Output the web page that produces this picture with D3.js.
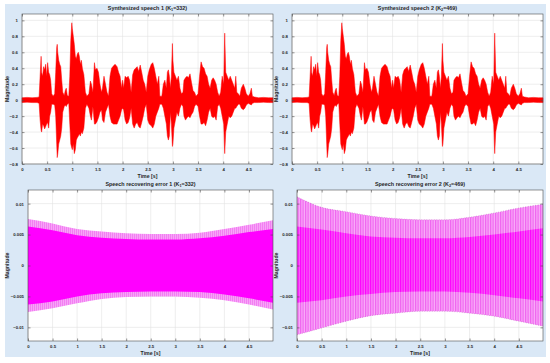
<!DOCTYPE html>
<html lang="en">
<head>
<meta charset="utf-8">
<title>Synthesized speech and recovering error</title>
<script src="https://d3js.org/d3.v7.min.js"></script>
<style>
  body { margin: 0; background: #fff; }
  svg text { font-family: 'Liberation Sans', Arial, sans-serif; font-weight: bold; fill: #262626; }
</style>
</head>
<body>
<div id="chart"></div>
<script>
// speech envelope (time [s], upper, lower)
var speechT  = [0,0.1,0.2,0.3,0.34,0.36,0.38,0.39,0.41,0.43,0.45,0.47,0.49,0.51,0.53,0.55,0.57,0.59,0.62,0.65,0.67,0.69,0.7,0.71,0.73,0.75,0.77,0.79,0.81,0.84,0.86,0.88,0.9,0.93,0.95,0.97,0.99,1,1.02,1.04,1.06,1.08,1.1,1.12,1.14,1.16,1.18,1.2,1.23,1.26,1.29,1.33,1.36,1.38,1.41,1.44,1.46,1.49,1.52,1.55,1.58,1.6,1.63,1.66,1.69,1.72,1.75,1.78,1.82,1.85,1.89,1.92,1.95,1.98,2,2.02,2.05,2.08,2.11,2.14,2.17,2.2,2.23,2.26,2.29,2.32,2.35,2.38,2.41,2.44,2.47,2.5,2.53,2.57,2.6,2.63,2.66,2.69,2.72,2.74,2.78,2.81,2.84,2.87,2.89,2.91,2.93,2.95,2.97,2.99,3,3.02,3.05,3.08,3.11,3.14,3.17,3.2,3.22,3.25,3.28,3.31,3.34,3.37,3.4,3.43,3.46,3.5,3.53,3.56,3.59,3.62,3.65,3.68,3.71,3.74,3.77,3.8,3.83,3.86,3.89,3.92,3.95,3.98,4.01,4.03,4.05,4.08,4.11,4.14,4.17,4.2,4.23,4.25,4.27,4.3,4.33,4.36,4.4,4.43,4.46,4.5,4.53,4.56,4.58,4.62,4.7,4.8,4.9,4.99];
var speechUp = [0.03,0.035,0.03,0.035,0.04,0.3,0.55,0.35,0.3,0.42,0.38,0.45,0.3,0.47,0.35,0.32,0.25,0.08,0.05,0.08,0.35,0.66,0.7,0.6,0.5,0.45,0.42,0.25,0.1,0.06,0.12,0.15,0.06,0.05,0.3,0.75,0.97,0.9,0.8,0.7,0.55,0.52,0.58,0.6,0.55,0.45,0.5,0.4,0.32,0.1,0.05,0.08,0.24,0.2,0.1,0.47,0.38,0.4,0.35,0.2,0.1,0.15,0.3,0.2,0.1,0.05,0.3,0.4,0.43,0.45,0.42,0.35,0.3,0.15,0.25,0.15,0.3,0.28,0.3,0.25,0.1,0.32,0.38,0.4,0.42,0.36,0.44,0.35,0.25,0.2,0.1,0.3,0.38,0.45,0.47,0.4,0.3,0.2,0.3,0.05,0.05,0.2,0.25,0.15,0.35,0.38,0.3,0.15,0.3,0.71,0.5,0.35,0.3,0.25,0.3,0.15,0.08,0.1,0.25,0.28,0.3,0.28,0.33,0.22,0.12,0.1,0.05,0.08,0.3,0.48,0.42,0.4,0.33,0.3,0.2,0.15,0.25,0.28,0.25,0.2,0.1,0.05,0.1,0.3,0.2,0.84,0.35,0.3,0.25,0.3,0.25,0.2,0.15,0.3,0.1,0.08,0.05,0.15,0.2,0.15,0.08,0.05,0.08,0.15,0.05,0.04,0.03,0.035,0.03,0.03];
var speechLo = [-0.03,-0.025,-0.03,-0.03,-0.04,-0.25,-0.38,-0.4,-0.3,-0.32,-0.36,-0.33,-0.3,-0.28,-0.35,-0.2,-0.15,-0.05,-0.05,-0.06,-0.2,-0.55,-0.72,-0.68,-0.55,-0.5,-0.45,-0.35,-0.15,-0.08,-0.06,-0.08,-0.05,-0.04,-0.3,-0.55,-0.6,-0.62,-0.55,-0.67,-0.62,-0.5,-0.47,-0.45,-0.42,-0.45,-0.4,-0.42,-0.35,-0.1,-0.05,-0.1,-0.2,-0.25,-0.08,-0.3,-0.3,-0.27,-0.22,-0.15,-0.12,-0.25,-0.28,-0.15,-0.1,-0.05,-0.2,-0.28,-0.3,-0.3,-0.3,-0.25,-0.2,-0.12,-0.1,-0.12,-0.25,-0.3,-0.28,-0.22,-0.1,-0.3,-0.35,-0.3,-0.28,-0.33,-0.35,-0.28,-0.2,-0.1,-0.05,-0.25,-0.3,-0.32,-0.35,-0.3,-0.2,-0.15,-0.1,-0.05,-0.05,-0.1,-0.2,-0.3,-0.45,-0.5,-0.45,-0.15,-0.3,-0.58,-0.55,-0.35,-0.25,-0.15,-0.2,-0.1,-0.05,-0.08,-0.2,-0.25,-0.22,-0.2,-0.22,-0.18,-0.15,-0.08,-0.05,-0.08,-0.2,-0.3,-0.3,-0.28,-0.32,-0.25,-0.15,-0.1,-0.2,-0.22,-0.2,-0.25,-0.08,-0.05,-0.1,-0.2,-0.3,-0.67,-0.4,-0.3,-0.2,-0.22,-0.2,-0.15,-0.1,-0.1,-0.08,-0.05,-0.05,-0.1,-0.12,-0.1,-0.06,-0.04,-0.05,-0.06,-0.04,-0.03,-0.03,-0.025,-0.03,-0.03];

// recovering error envelopes, sampled every 0.5 s
var errT = [0,0.5,1,1.5,2,2.5,3,3.5,4,4.5,4.99];
var err1OutUp = [0.0075,0.0068,0.0059,0.0055,0.0052,0.0051,0.0051,0.0053,0.0059,0.0066,0.0073];
var err1OutLo = [-0.0075,-0.0069,-0.0061,-0.0054,-0.0051,-0.005,-0.005,-0.0052,-0.0056,-0.0063,-0.0071];
var err1InUp  = [0.0063,0.0057,0.0049,0.0045,0.0043,0.0042,0.0042,0.0044,0.0048,0.0054,0.0059];
var err1InLo  = [-0.0063,-0.0058,-0.005,-0.0045,-0.0043,-0.0042,-0.0042,-0.0043,-0.0047,-0.0053,-0.006];
var err2OutUp = [0.0111,0.0094,0.0087,0.008,0.0076,0.0074,0.0074,0.0078,0.0085,0.0093,0.0099];
var err2OutLo = [-0.0112,-0.0101,-0.009,-0.0081,-0.0077,-0.0074,-0.0074,-0.0077,-0.0082,-0.009,-0.0098];
var err2InUp  = [0.0063,0.0058,0.0052,0.0047,0.0045,0.0044,0.0044,0.0046,0.005,0.0055,0.006];
var err2InLo  = [-0.006,-0.0056,-0.005,-0.0046,-0.0043,-0.0042,-0.0042,-0.0044,-0.0048,-0.0053,-0.0058];

var xTicks = [0,0.5,1,1.5,2,2.5,3,3.5,4,4.5];
var speechTicks = [-0.8,-0.6,-0.4,-0.2,0,0.2,0.4,0.6,0.8,1];
var errTicks = [-0.01,-0.005,0,0.005,0.01];

var svg = d3.select("#chart").append("svg")
  .attr("width", 550).attr("height", 363);

svg.append("rect").attr("x", 5).attr("y", 4).attr("width", 541).attr("height", 353)
  .attr("fill", "#dae8f6");

// stripe patterns for the dense error oscillation
var defs = svg.append("defs");
function stripes(id, a, b, w) {
  var p = defs.append("pattern").attr("id", id)
    .attr("patternUnits", "userSpaceOnUse").attr("width", w).attr("height", 10);
  p.append("rect").attr("width", w).attr("height", 10).attr("fill", b);
  p.append("rect").attr("width", w / 2).attr("height", 10).attr("fill", a);
}
stripes("s1out", "#f27ef2", "#f7a4f7", 2);
stripes("s2out", "#f064f0", "#f8aef8", 2.5);
stripes("s2in", "#ff00ff", "#f661f6", 2.5);

var panels = [
  {l: 22, r: 273, t: 14, b: 164, y: [-0.8, 1.08], ticks: speechTicks, ylx: 9,
   title: ["Synthesized speech 1 (K", "1", "=332)"], kind: "speech"},
  {l: 292, r: 543, t: 14, b: 164, y: [-0.8, 1.08], ticks: speechTicks, ylx: 278,
   title: ["Synthesized speech 2 (K", "2", "=469)"], kind: "speech"},
  {l: 28, r: 273, t: 190, b: 341, y: [-0.0122, 0.0122], ticks: errTicks, ylx: 9,
   title: ["Speech recovering error 1 (K", "1", "=332)"], kind: "err1"},
  {l: 297, r: 543, t: 190, b: 341, y: [-0.0122, 0.0122], ticks: errTicks, ylx: 278,
   title: ["Speech recovering error 2 (K", "2", "=469)"], kind: "err2"}
];

panels.forEach(function(p) {
  var x = d3.scaleLinear().domain([0, 4.99]).range([p.l, p.r]);
  var y = d3.scaleLinear().domain(p.y).range([p.b, p.t]);
  var g = svg.append("g");

  g.append("rect").attr("x", p.l).attr("y", p.t)
    .attr("width", p.r - p.l).attr("height", p.b - p.t).attr("fill", "#fff");

  // grid
  g.selectAll(".gx").data(xTicks).enter().append("line")
    .attr("x1", d => x(d)).attr("x2", d => x(d)).attr("y1", p.t).attr("y2", p.b)
    .attr("stroke", "#e3e3e3").attr("stroke-width", 0.6);
  g.selectAll(".gy").data(p.ticks).enter().append("line")
    .attr("y1", d => y(d)).attr("y2", d => y(d)).attr("x1", p.l).attr("x2", p.r)
    .attr("stroke", "#e3e3e3").attr("stroke-width", 0.6);

  var plot = g.append("g");
  if (p.kind == "speech") {
    var idx = d3.range(speechT.length);
    plot.append("path").datum(idx)
      .attr("d", d3.area().x(i => x(speechT[i])).y0(i => y(speechLo[i])).y1(i => y(speechUp[i])))
      .attr("fill", "#ff0000").attr("stroke", "#ff0000").attr("stroke-width", 0.5);
  } else {
    var idx = d3.range(errT.length);
    var oUp = p.kind == "err1" ? err1OutUp : err2OutUp;
    var oLo = p.kind == "err1" ? err1OutLo : err2OutLo;
    var iUp = p.kind == "err1" ? err1InUp : err2InUp;
    var iLo = p.kind == "err1" ? err1InLo : err2InLo;
    var curve = d3.curveMonotoneX;
    plot.append("path").datum(idx)
      .attr("d", d3.area().curve(curve).x(i => x(errT[i])).y0(i => y(oLo[i])).y1(i => y(oUp[i])))
      .attr("fill", p.kind == "err1" ? "url(#s1out)" : "url(#s2out)");
    plot.append("path").datum(idx)
      .attr("d", d3.area().curve(curve).x(i => x(errT[i])).y0(i => y(iLo[i])).y1(i => y(iUp[i])))
      .attr("fill", p.kind == "err1" ? "#ff00ff" : "url(#s2in)");
    if (p.kind == "err2") {
      // dark tips along the outer edge
      [oUp, oLo].forEach(function(arr) {
        plot.append("path").datum(idx)
          .attr("d", d3.line().curve(curve).x(i => x(errT[i])).y(i => y(arr[i])))
          .attr("fill", "none").attr("stroke", "#a040a0").attr("stroke-width", 0.8)
          .attr("stroke-dasharray", "0.8,1.7").attr("opacity", 0.5);
      });
    }
  }

  // box with inside ticks on all sides
  g.append("rect").attr("x", p.l).attr("y", p.t)
    .attr("width", p.r - p.l).attr("height", p.b - p.t)
    .attr("fill", "none").attr("stroke", "#4d4d4d").attr("stroke-width", 0.6);
  var axB = d3.axisBottom(x).tickValues(xTicks).tickSize(-2.5).tickPadding(4).tickFormat(d3.format(""));
  var axT = d3.axisTop(x).tickValues(xTicks).tickSize(-2.5).tickFormat("");
  var axL = d3.axisLeft(y).tickValues(p.ticks).tickSize(-2.5).tickPadding(4).tickFormat(d3.format(""));
  var axR = d3.axisRight(y).tickValues(p.ticks).tickSize(-2.5).tickFormat("");
  [[axB, "translate(0," + p.b + ")"], [axT, "translate(0," + p.t + ")"],
   [axL, "translate(" + p.l + ",0)"], [axR, "translate(" + p.r + ",0)"]].forEach(function(a) {
    var ag = g.append("g").attr("transform", a[1]).call(a[0]);
    ag.select(".domain").remove();
    ag.selectAll("line").attr("stroke", "#4d4d4d").attr("stroke-width", 0.6);
    ag.selectAll("text").attr("font-size", 4.3).attr("font-family", null).style("fill", "#262626");
  });

  // title with subscript
  var tt = g.append("text").attr("x", (p.l + p.r) / 2).attr("y", p.t - 4)
    .attr("text-anchor", "middle").attr("font-size", 5.4);
  tt.append("tspan").text(p.title[0]);
  tt.append("tspan").attr("dy", 1.2).attr("font-size", 3.8).text(p.title[1]);
  tt.append("tspan").attr("dy", -1.2).text(p.title[2]);

  g.append("text").attr("x", (p.l + p.r) / 2).attr("y", p.b + 13.5)
    .attr("text-anchor", "middle").attr("font-size", 5.2).text("Time [s]");
  g.append("text").attr("transform", "translate(" + p.ylx + "," + ((p.t + p.b) / 2) + ") rotate(-90)")
    .attr("text-anchor", "middle").attr("font-size", 5.2).text("Magnitude");
});
</script>
</body>
</html>
